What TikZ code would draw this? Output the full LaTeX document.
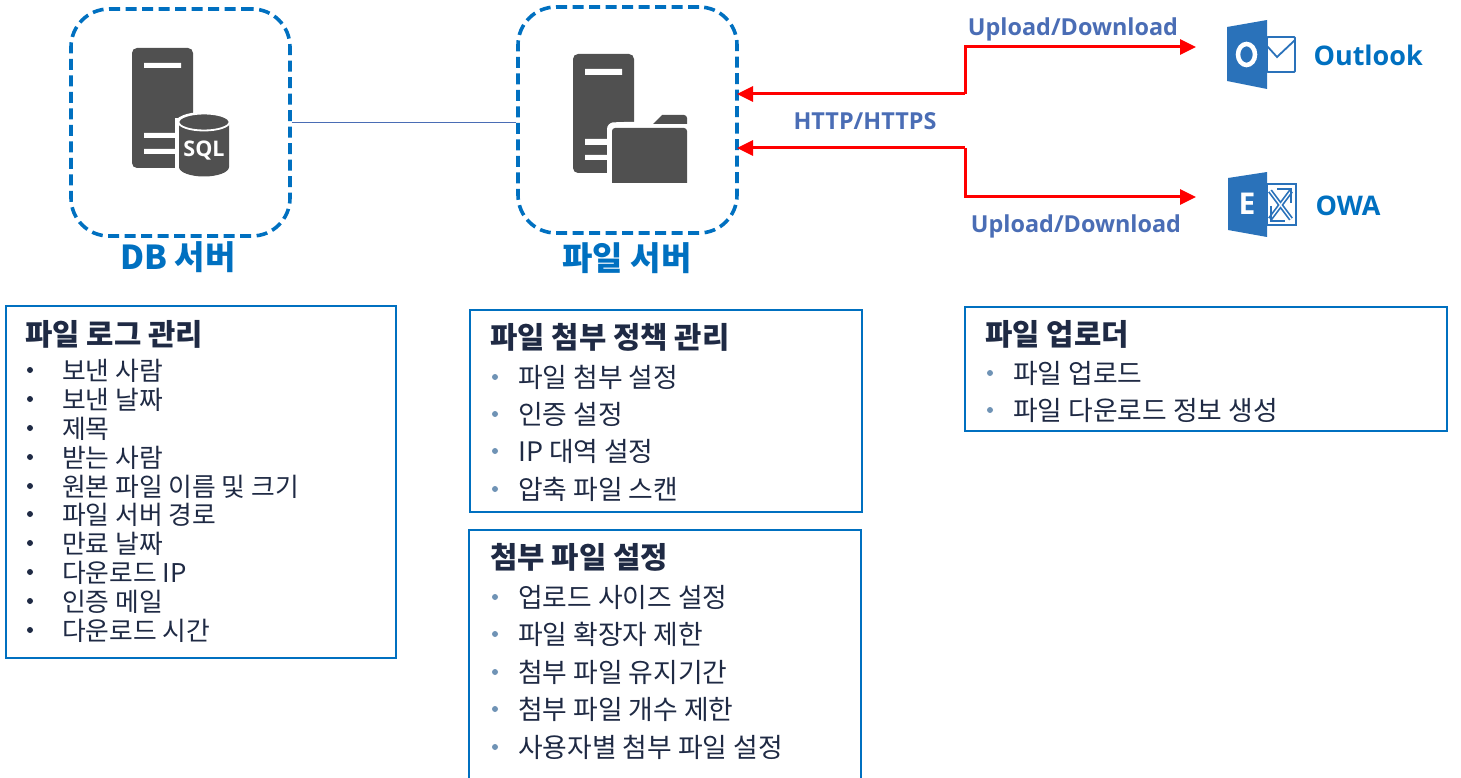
\documentclass[tikz,border=0pt]{standalone}
\usepackage{fontspec}
\setmainfont{Noto Sans CJK KR}
\newfontfamily\latinfont{Open Sans}
\usetikzlibrary{arrows.meta,shapes.geometric}
\definecolor{boxblue}{HTML}{0070C0}
\definecolor{labelblue}{HTML}{4A6DB5}
\definecolor{icongray}{HTML}{505050}
\definecolor{iconblue}{HTML}{2A72BA}
\definecolor{titlenavy}{HTML}{1F2A44}
\definecolor{bulletblue}{HTML}{6F93B5}
\tikzset{
  serverbox/.style={draw=boxblue, line width=3.6pt, dash pattern=on 11pt off 5.5pt, rounded corners=38pt},
  listbox/.style={draw=boxblue, line width=2.4pt},
  servername/.style={text=boxblue, font=\fontsize{33}{36}\selectfont\bfseries},
  appname/.style={text=boxblue, font=\fontsize{27}{32}\selectfont\latinfont\bfseries},
  linklabel/.style={text=labelblue, font=\fontsize{23.4}{30}\selectfont\latinfont\bfseries},
  boxtitle/.style={anchor=west, text=titlenavy, font=\fontsize{29.7}{34}\selectfont\bfseries},
  logitem/.style={anchor=west, text=titlenavy, font=\fontsize{25.8}{30}\selectfont, text height=20pt, text depth=6pt, inner sep=0pt},
  ruleitem/.style={anchor=west, text=titlenavy, font=\fontsize{26.8}{30}\selectfont, text height=20pt, text depth=6pt, inner sep=0pt},
  logbullet/.style={circle, fill=titlenavy, inner sep=0pt, minimum size=6pt},
  rulebullet/.style={circle, fill=bulletblue, inner sep=0pt, minimum size=6pt},
  redlink/.style={draw=red, line width=3pt, -{Triangle[length=16pt,width=15pt]}},
}
\begin{document}
\begin{tikzpicture}[x=1pt,y=-1pt]
    \useasboundingbox (0,0) rectangle (1461,778);

    % servers
    \node [serverbox, minimum width=219pt, minimum height=227pt] (dbbox) at (180.5,122.5) {};
    \node [serverbox, minimum width=219pt, minimum height=226pt] (filebox) at (627.5,120) {};
    \node [servername] (dbname) at (178,257) {DB 서버};
    \node [servername] (filename) at (627,258) {파일 서버};
    \draw [draw=labelblue, line width=1pt] (dbbox.east) -- (filebox.west |- dbbox.east);

    % db icon
    \fill [icongray, rounded corners=5pt] (132,168) -- (132,48) -- (193,48) -- (193,168) -- cycle;
    \fill [white] (144,63) rectangle (181,68) (144,133) rectangle (181,138) (144,149) rectangle (181,154);
    \fill [white] (175,118) rectangle (231,172);
    \fill [white] (203,123) ellipse [x radius=28pt, y radius=11pt] (203,167) ellipse [x radius=28pt, y radius=11pt];
    \fill [icongray] (179,122) -- (179,167) arc [start angle=180, end angle=360, x radius=25pt, y radius=9.5pt] -- (229,122) -- cycle;
    \draw [white, line width=1.8pt, fill=icongray] (204,122) ellipse [x radius=25.5pt, y radius=8.5pt];
    \node [text=white, font=\fontsize{21.5}{24}\selectfont\latinfont\bfseries, inner sep=0pt] (sqltag) at (204,151) {SQL};

    % file icon
    \fill [icongray, rounded corners=5pt] (573,173) -- (573,54) -- (634,54) -- (634,173) -- cycle;
    \fill [white] (585,69) rectangle (622,75) (585,139) rectangle (622,145) (585,155) rectangle (622,160);
    \fill [white, rounded corners=6pt] (607,184) -- (607,123) -- (618,122) -- (688,122) -- (688,184) -- cycle;
    \fill [icongray] (612,183) -- (612,134) [rounded corners=3pt] -- (612,128) -- (687,128) [sharp corners] -- (687,183) -- cycle;
    \fill [icongray] (653,124) -- (662,115) [rounded corners=3pt] -- (687,115) [sharp corners] -- (687,124) -- cycle;

    % outlook icon
    \draw [iconblue, line width=1.8pt, rounded corners=1pt] (1267,37) rectangle (1295,72);
    \draw [iconblue, line width=1.8pt] (1267,46) -- (1277,57) -- (1295,40);
    \fill [iconblue] (1227,27) -- (1267,20) -- (1267,89) -- (1227,81) -- cycle;
    \draw [white, line width=4.5pt] (1246.5,54.5) ellipse [x radius=8.5pt, y radius=10.5pt];
    \node [appname, anchor=west] (outlook) at (1310,55) {Outlook};

    % owa icon
    \draw [iconblue, line width=1.8pt] (1267,184) rectangle (1296,225);
    \draw [iconblue, line width=1.7pt, double=white, double distance=1.3pt] (1270,191) -- (1291,219) (1270,219) -- (1291,191);
    \draw [iconblue, line width=2.6pt] (1277,189) -- (1291,189) -- (1291,203) (1271,206) -- (1271,221) -- (1285,221);
    \fill [iconblue] (1228,178) -- (1267,172) -- (1267,237) -- (1228,230) -- cycle;
    \node [text=white, font=\fontsize{30}{32}\selectfont\latinfont\bfseries, inner sep=0pt] (etag) at (1247,204) {E};
    \node [appname, anchor=west] (owa) at (1312,206) {OWA};

    % links
    \coordinate (upbend) at (965,94);
    \coordinate (lowbend) at (965,148);
    \coordinate (upend) at (1196,47);
    \coordinate (lowend) at (1196,197);
    \coordinate (upin) at (737,94);
    \coordinate (lowin) at (737,148);
    \draw [redlink] (upbend) -- (upin);
    \draw [redlink] (upbend) -- (upbend |- upend) -- (upend);
    \draw [redlink] (lowbend) -- (lowin);
    \draw [redlink] (lowbend) -- (lowbend |- lowend) -- (lowend);
    \node [linklabel] (uptext) at (1073,29) {Upload/Download};
    \node [linklabel] (midtext) at (865,121) {HTTP/HTTPS};
    \node [linklabel] (lowtext) at (1076,226) {Upload/Download};

    % log box
    \node [listbox, minimum width=390pt, minimum height=352pt] (logbox) at (201,482) {};
    \node [boxtitle] (logtitle) at (22,334) {파일 로그 관리};
    \foreach \n/\y/\txt in {a/370/보낸 사람, b/399/보낸 날짜, c/428/제목, d/457/받는 사람, e/486/원본 파일 이름 및 크기, f/514/파일 서버 경로, g/543/만료 날짜, h/572/다운로드 IP, i/601/인증 메일, j/630/다운로드 시간} {
        \node [logbullet] (logdot\n) at (30,\y) {};
        \node [logitem] (log\n) at (62,\y+3) {\txt};
    }

    % policy box
    \node [listbox, minimum width=392pt, minimum height=202pt] (policybox) at (666,411) {};
    \node [boxtitle] (policytitle) at (487,337) {파일 첨부 정책 관리};
    \foreach \n/\y/\txt in {a/377/파일 첨부 설정, b/414/인증 설정, c/451/IP 대역 설정, d/489/압축 파일 스캔} {
        \node [rulebullet] (policydot\n) at (495,\y) {};
        \node [ruleitem] (policy\n) at (518,\y+3) {\txt};
    }

    % attach box
    \node [listbox, minimum width=392pt, minimum height=250pt] (attachbox) at (665,655) {};
    \node [boxtitle] (attachtitle) at (487,557) {첨부 파일 설정};
    \foreach \n/\y/\txt in {a/597/업로드 사이즈 설정, b/634/파일 확장자 제한, c/672/첨부 파일 유지기간, d/709/첨부 파일 개수 제한, e/747/사용자별 첨부 파일 설정} {
        \node [rulebullet] (attachdot\n) at (495,\y) {};
        \node [ruleitem] (attach\n) at (518,\y+3) {\txt};
    }

    % uploader box
    \node [listbox, minimum width=482pt, minimum height=124pt] (upbox) at (1206,369) {};
    \node [boxtitle] (uptitle) at (982,334) {파일 업로더};
    \foreach \n/\y/\txt in {a/373/파일 업로드, b/410/파일 다운로드 정보 생성} {
        \node [rulebullet] (updot\n) at (990,\y) {};
        \node [ruleitem] (up\n) at (1013,\y+3) {\txt};
    }
\end{tikzpicture}
\end{document}
